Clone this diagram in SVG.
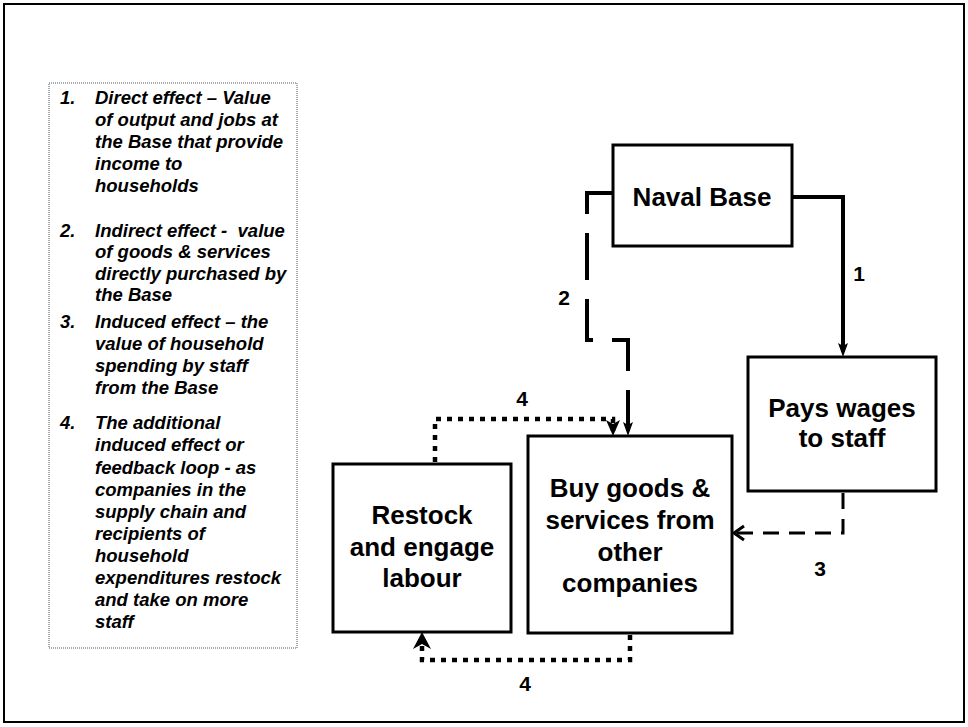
<svg xmlns="http://www.w3.org/2000/svg" width="968" height="727" viewBox="0 0 968 727">
<style>
.frame{fill:#fff;stroke:#000;stroke-width:2}
.box{fill:#fff;stroke:#000;stroke-width:3}
.legbox{fill:#fff;stroke:#555;stroke-width:1;stroke-dasharray:1 1}
.bt{font-family:"Liberation Sans",Arial,sans-serif;font-weight:bold;font-size:26px;text-anchor:middle;fill:#000}
.lg{font-family:"Liberation Sans",Arial,sans-serif;font-weight:bold;font-style:italic;font-size:18.5px;fill:#000}
.lbl{font-family:"Liberation Sans",Arial,sans-serif;font-weight:bold;font-size:21px;text-anchor:middle;fill:#000}
.c{fill:none;stroke:#000;stroke-linejoin:miter}
.solid{stroke-width:4}
.dash{stroke-width:4;stroke-dasharray:47 19}
.dash3{stroke-width:3;stroke-dasharray:16 10}
.dot{stroke-width:4.5;stroke-dasharray:5 6}
</style>
<defs>
<marker id="ah" markerUnits="userSpaceOnUse" viewBox="-12 -7 18 14" refX="0" refY="0" markerWidth="18" markerHeight="14" orient="auto">
<path d="M5,0 L-9,-5 L-6,0 L-9,5 Z" fill="#000"/>
</marker>
<marker id="ahm" markerUnits="userSpaceOnUse" viewBox="-14 -9 20 18" refX="0" refY="0" markerWidth="20" markerHeight="18" orient="auto">
<path d="M5,0 L-11,-7 L-7,0 L-11,7 Z" fill="#000"/>
</marker>
<marker id="ahl" markerUnits="userSpaceOnUse" viewBox="-16 -11 22 22" refX="0" refY="0" markerWidth="22" markerHeight="22" orient="auto">
<path d="M5,0 L-12,-9 L-7,0 L-12,9 Z" fill="#000"/>
</marker>
<marker id="open" markerUnits="userSpaceOnUse" viewBox="-14 -10 18 20" refX="0" refY="0" markerWidth="18" markerHeight="20" orient="auto">
<path d="M-9,-7 L1,0 L-9,7" fill="none" stroke="#000" stroke-width="3"/>
</marker>
</defs>
<rect class="frame" x="4" y="4" width="960" height="718"/>

<g id="legend">
<rect class="legbox" x="49" y="83" width="248" height="565"/>
<text class="lg" x="60" y="104">1.</text>
<text class="lg" x="95" y="104">Direct effect – Value</text>
<text class="lg" x="95" y="126">of output and jobs at</text>
<text class="lg" x="95" y="148">the Base that provide</text>
<text class="lg" x="95" y="170">income to</text>
<text class="lg" x="95" y="192">households</text>
<text class="lg" x="60" y="237">2.</text>
<text class="lg" x="95" y="237" xml:space="preserve">Indirect effect -  value</text>
<text class="lg" x="95" y="258">of goods &amp; services</text>
<text class="lg" x="95" y="280">directly purchased by</text>
<text class="lg" x="95" y="301">the Base</text>
<text class="lg" x="60" y="328">3.</text>
<text class="lg" x="95" y="328">Induced effect – the</text>
<text class="lg" x="95" y="350">value of household</text>
<text class="lg" x="95" y="372">spending by staff</text>
<text class="lg" x="95" y="394">from the Base</text>
<text class="lg" x="60" y="429">4.</text>
<text class="lg" x="95" y="429">The additional</text>
<text class="lg" x="95" y="451">induced effect or</text>
<text class="lg" x="95" y="474">feedback loop - as</text>
<text class="lg" x="95" y="496">companies in the</text>
<text class="lg" x="95" y="518">supply chain and</text>
<text class="lg" x="95" y="540">recipients of</text>
<text class="lg" x="95" y="562">household</text>
<text class="lg" x="95" y="584">expenditures restock</text>
<text class="lg" x="95" y="606">and take on more</text>
<text class="lg" x="95" y="628">staff</text>
</g>

<g id="connectors">
<path class="c solid" d="M792,197 H843 V352" marker-end="url(#ah)"/>
<path class="c dash" d="M613,193 H587 V340 H628 V431" marker-end="url(#ah)"/>
<path class="c dash3" d="M843,493 V533 H735" marker-end="url(#open)"/>
<path class="c dot" d="M435,462 V419 H613 V431" marker-end="url(#ahm)"/>
<path class="c dot" d="M630,635 V660 H422 V637" marker-end="url(#ahl)"/>
<text class="lbl" x="859" y="281">1</text>
<text class="lbl" x="564" y="305">2</text>
<text class="lbl" x="820" y="576">3</text>
<text class="lbl" x="522" y="406">4</text>
<text class="lbl" x="525" y="691">4</text>
</g>

<g id="naval-base">
<rect class="box" x="613" y="145" width="179" height="101"/>
<text class="bt" x="702" y="206">Naval Base</text>
</g>

<g id="pays-wages">
<rect class="box" x="748" y="357" width="188" height="134"/>
<text class="bt" x="842" y="417">Pays wages</text>
<text class="bt" x="842" y="447">to staff</text>
</g>

<g id="buy-goods">
<rect class="box" x="528" y="436" width="204" height="197"/>
<text class="bt" x="630" y="497">Buy goods &amp;</text>
<text class="bt" x="630" y="529">services from</text>
<text class="bt" x="630" y="561">other</text>
<text class="bt" x="630" y="592">companies</text>
</g>

<g id="restock">
<rect class="box" x="333" y="464" width="178" height="168"/>
<text class="bt" x="422" y="524">Restock</text>
<text class="bt" x="422" y="556">and engage</text>
<text class="bt" x="422" y="587">labour</text>
</g>
</svg>
